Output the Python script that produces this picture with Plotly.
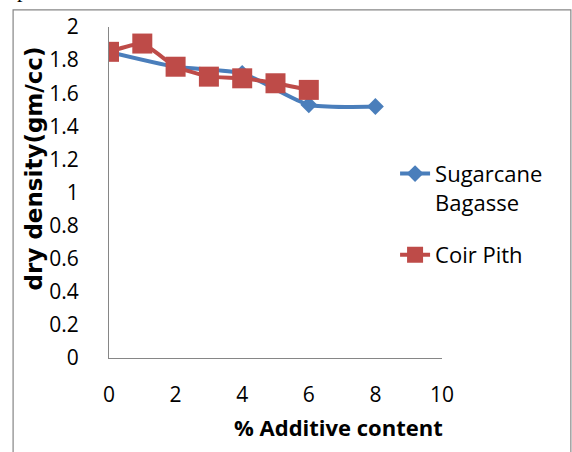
import plotly.graph_objects as go

# Data
sb_x = [0, 2, 4, 6, 8]
sb_y = [1.85, 1.76, 1.72, 1.53, 1.52]
cp_x = [0, 1, 2, 3, 4, 5, 6]
cp_y = [1.85, 1.90, 1.76, 1.70, 1.69, 1.66, 1.62]
x_ticks = [0, 2, 4, 6, 8, 10]
y_ticks = [0, 0.2, 0.4, 0.6, 0.8, 1, 1.2, 1.4, 1.6, 1.8, 2]
y_ticktext = ["0", "0.2", "0.4", "0.6", "0.8", "1", "1.2", "1.4", "1.6", "1.8", "2"]

FONT = "Open Sans"
BLUE = "#4A7EBB"
RED = "#BE4B48"
AX = "#868686"

fig = go.Figure()
fig.add_trace(go.Scatter(
    x=sb_x, y=sb_y, name="Sugarcane<br>Bagasse", mode="lines+markers",
    legendgroup="sb",
    line=dict(color=BLUE, width=4, shape="spline", smoothing=0.6),
    marker=dict(symbol="diamond", size=13, color=BLUE),
))
fig.add_trace(go.Scatter(
    x=cp_x, y=cp_y, name="Coir Pith", mode="lines+markers",
    legendgroup="cp",
    line=dict(color=RED, width=4, shape="spline", smoothing=0.4),
    marker=dict(symbol="square", size=20, color=RED),
))

fig.update_layout(
    width=572, height=452,
    margin=dict(l=108.5, r=130, t=22.7, b=94.3),
    paper_bgcolor="white", plot_bgcolor="white",
    font=dict(family=FONT, size=21, color="black"),
    showlegend=True,
    legend=dict(x=(395 - 108.5) / 333.5, y=(357.7 - 150) / 335,
                xanchor="left", yanchor="top",
                xref="paper", yref="paper",
                font=dict(family=FONT, size=22, color="black"),
                valign="top", tracegroupgap=21, bgcolor="rgba(0,0,0,0)"),
    xaxis=dict(range=[0, 10], tickvals=x_ticks, ticktext=[str(v) for v in x_ticks],
               showgrid=False, zeroline=False, showline=True, linecolor=AX,
               linewidth=1, ticks="", ticklabelstandoff=18,
               tickfont=dict(family=FONT, size=21)),
    yaxis=dict(range=[0, 2], tickvals=y_ticks, ticktext=y_ticktext,
               showgrid=False, zeroline=False, showline=True, linecolor=AX,
               linewidth=1, ticks="", ticklabelstandoff=25,
               tickfont=dict(family=FONT, size=21)),
    shapes=[dict(type="rect", xref="paper", yref="paper",
                 x0=-0.288, x1=1.387, y0=-0.335, y1=1.052,
                 line=dict(color=AX, width=1.2), fillcolor="rgba(0,0,0,0)",
                 layer="below")],
    annotations=[
        dict(text="<b>dry density(gm/cc)</b>", xref="paper", yref="paper",
             x=-0.226, y=0.572, xanchor="center", yanchor="middle",
             textangle=-90, showarrow=False,
             font=dict(family="DejaVu Sans", size=23, color="black")),
        dict(text="<b>% Additive content</b>", xref="paper", yref="paper",
             x=0.688, y=-0.207, xanchor="center", yanchor="middle",
             showarrow=False, font=dict(family=FONT, size=22, color="black")),
        dict(text="p", xref="paper", yref="paper",
             x=-0.26, y=1.068, xanchor="center", yanchor="bottom",
             showarrow=False, font=dict(family="Liberation Serif", size=22, color="black")),
    ],
)

fig.write_html("out.html")
